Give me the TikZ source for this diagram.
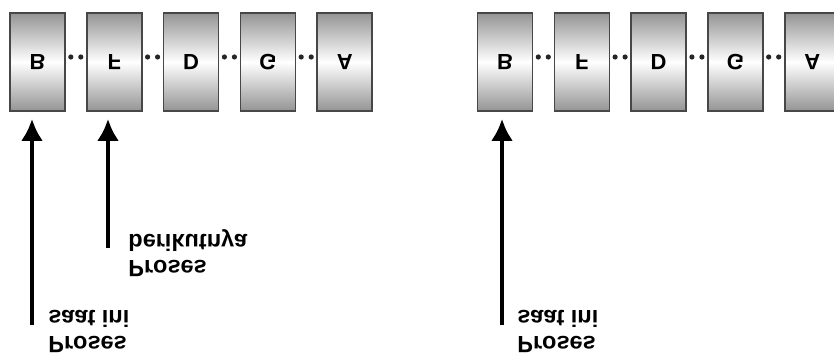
\documentclass[tikz,border=0pt]{standalone}
\usepackage{fontspec}
\setmainfont{Liberation Sans}
\usepackage{graphicx}
\usetikzlibrary{arrows.meta, positioning}
\tikzstyle{block} = [draw=black!72, line width=0.8pt, rectangle, inner sep=0pt, minimum width=27.5pt, minimum height=49pt, top color=black!42, bottom color=black!42, middle color=white, font=\fontsize{11}{13}\selectfont\bfseries]
\tikzstyle{link} = [black!85, line width=2.6pt, line cap=round, dash pattern=on 0pt off 5pt, dash phase=2.5pt]
\tikzstyle{ptr} = [black, line width=2.25pt, -{Latex[length=11pt,width=11pt]}, shorten >=3.5pt]
\tikzstyle{note} = [inner sep=0pt, font=\fontsize{11.75}{13}\selectfont\bfseries]
\newcommand{\flip}[1]{\scalebox{1}[-1]{#1}}
\newcommand{\twolines}[2]{\flip{\begin{tabular}{@{}l@{}}#1\\#2\end{tabular}}}

\begin{document}
\begin{tikzpicture}[auto, node distance=38.4pt]
  \useasboundingbox (0,0) rectangle (417pt,-179pt);
  % left queue
  \node [block] (b1) at (18.75pt,-31pt) {\flip{B}};
  \node [block, right of=b1] (f1) {\flip{F}};
  \node [block, right of=f1] (d1) {\flip{D}};
  \node [block, right of=d1] (g1) {\flip{G}};
  \node [block, right of=g1] (a1) {\flip{A}};
  % right queue
  \node [block] (b2) at (252.5pt,-31pt) {\flip{B}};
  \node [block, right of=b2] (f2) {\flip{F}};
  \node [block, right of=f2] (d2) {\flip{D}};
  \node [block, right of=d2] (g2) {\flip{G}};
  \node [block, right of=g2] (a2) {\flip{A}};
  \foreach \p/\q in {b1/f1, f1/d1, d1/g1, g1/a1, b2/f2, f2/d2, d2/g2, g2/a2}
    \draw [link] ([yshift=2.5pt]\p.east) -- ([yshift=2.5pt]\q.west);
  % pointers
  \coordinate (c1) at (16pt,-162.5pt);
  \coordinate (c2) at (54pt,-124pt);
  \coordinate (c3) at (251pt,-162.5pt);
  \draw [ptr] (c1) -- (c1 |- b1.south);
  \draw [ptr] (c2) -- (c2 |- f1.south);
  \draw [ptr] (c3) -- (c3 |- b2.south);
  \node [note, right=8pt of c1, yshift=-2pt] (now1) {\twolines{Proses}{saat ini}};
  \node [note, right=10pt of c2, yshift=-2.5pt] (next1) {\twolines{Proses}{berikutnya}};
  \node [note, right=7.5pt of c3, yshift=-2pt] (now2) {\twolines{Proses}{saat ini}};
\end{tikzpicture}
\end{document}
